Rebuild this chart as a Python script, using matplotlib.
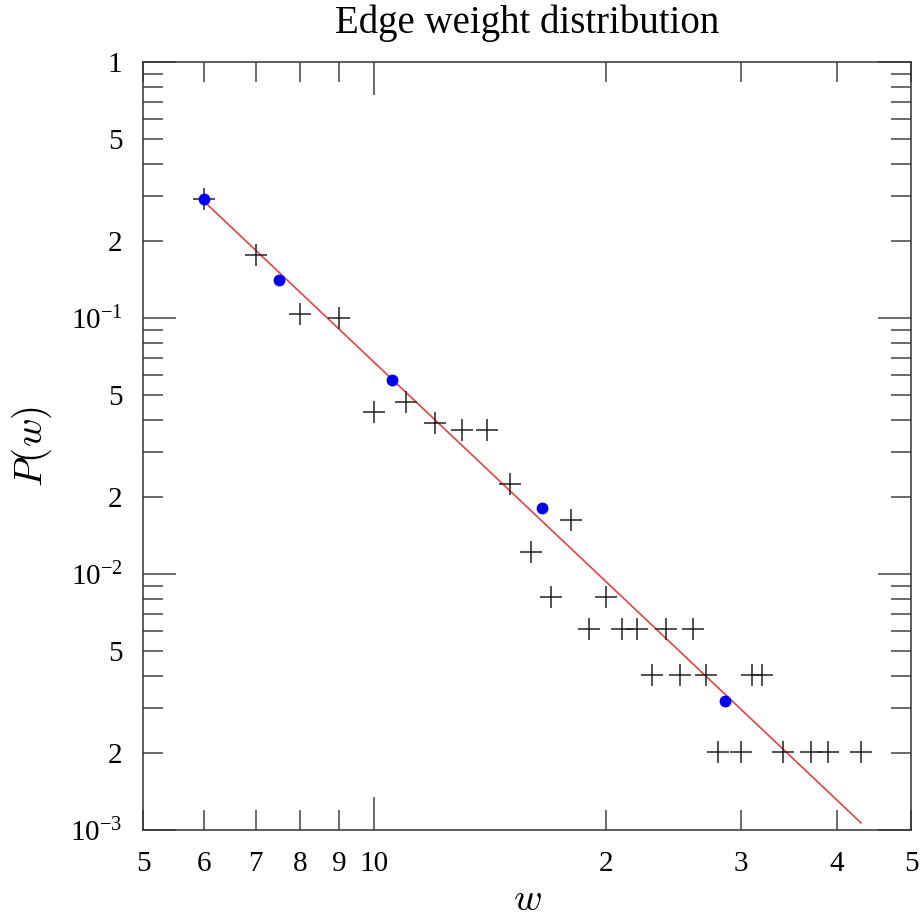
import numpy as np
import matplotlib
matplotlib.use("Agg")
import matplotlib.pyplot as plt
from matplotlib.ticker import LogLocator, FuncFormatter

# donnees
w_data = [6, 7, 8, 9, 10, 11, 12, 13, 14, 15, 16, 17, 18, 20,
          19, 21, 22, 24, 26,
          23, 25, 27, 31, 32,
          28, 30, 34, 37, 39, 43]
p_data = [0.291, 0.1758, 0.104, 0.0997, 0.0428, 0.0469, 0.0388, 0.0365, 0.0365, 0.0224,
          0.01216, 0.00813, 0.01626, 0.00813,
          0.00608, 0.00608, 0.00608, 0.00608, 0.00608,
          0.00404, 0.00404, 0.00404, 0.00404, 0.00404,
          0.00201, 0.00201, 0.00201, 0.00201, 0.00201, 0.00201]
# moyennes par classes log (points bleus)
w_bins = [6.0, 7.51, 10.55, 16.5, 28.6]
p_bins = [0.291, 0.1407, 0.0573, 0.01815, 0.00318]

plt.rcParams['font.family'] = 'Liberation Serif'
plt.rcParams['mathtext.fontset'] = 'custom'
plt.rcParams['mathtext.rm'] = 'Liberation Serif'
plt.rcParams['mathtext.it'] = 'Liberation Serif:italic'

fig = plt.figure(figsize=(9.24, 9.21), dpi=100)
ax = fig.add_axes([143.3 / 924, 1 - 830 / 921, 768 / 924, 768 / 921])

# ajustement loi de puissance sur les points bleus
pente, inter = np.polyfit(np.log10(w_bins), np.log10(p_bins), 1)
w_fit = np.array([min(w_data), max(w_data)])
p_fit = 10 ** inter * w_fit ** pente

ax.plot(w_fit, p_fit, color='#e04545', lw=1.2, zorder=2)
ax.plot(w_data, p_data, linestyle='none', marker='+', ms=16, mew=1.1, color='#222222', zorder=3)
ax.plot(w_bins, p_bins, linestyle='none', marker='o', ms=7.5, color='#0000ee', zorder=4)

ax.set_xscale('log')
ax.set_yscale('log')
ax.set_xlim(5, 50)
ax.set_ylim(1e-3, 1)

ax.xaxis.set_major_locator(LogLocator(base=10, numticks=20))
ax.xaxis.set_minor_locator(LogLocator(base=10, subs=range(2, 10), numticks=20))
ax.yaxis.set_major_locator(LogLocator(base=10, numticks=20))
ax.yaxis.set_minor_locator(LogLocator(base=10, subs=range(2, 10), numticks=20))

def chiffre(v):
    e = np.floor(np.log10(v) + 1e-9)
    return int(round(v / 10 ** e))

def fmt_x_major(v, pos):
    return '%d' % round(v)

def fmt_x_minor(v, pos):
    return str(chiffre(v))

def fmt_y_major(v, pos):
    e = int(round(np.log10(v)))
    if e == 0:
        return '1'
    return r'$\mathdefault{10^{%d}}$' % e

def fmt_y_minor(v, pos):
    d = chiffre(v)
    if d in (2, 5):
        return str(d)
    return ''

ax.xaxis.set_major_formatter(FuncFormatter(fmt_x_major))
ax.xaxis.set_minor_formatter(FuncFormatter(fmt_x_minor))
ax.yaxis.set_major_formatter(FuncFormatter(fmt_y_major))
ax.yaxis.set_minor_formatter(FuncFormatter(fmt_y_minor))

ax.tick_params(which='both', direction='in', top=True, right=True, colors='#444444',
               labelcolor='black', labelsize=21)
ax.tick_params(which='major', length=24, width=1.1)
ax.tick_params(which='minor', length=14.5, width=1.1)
ax.tick_params(axis='x', which='both', pad=15)
ax.tick_params(axis='y', which='both', pad=15)

for s in ax.spines.values():
    s.set_linewidth(1.1)
    s.set_color('#333333')

ax.set_title('Edge weight distribution', fontsize=28, pad=21)
ax.set_xlabel(r'$w$', fontsize=28, math_fontfamily='cm', labelpad=4)
ax.set_ylabel(r'$P(w)$', fontsize=28, math_fontfamily='cm', labelpad=12)

plt.savefig('out.png', dpi=100)
